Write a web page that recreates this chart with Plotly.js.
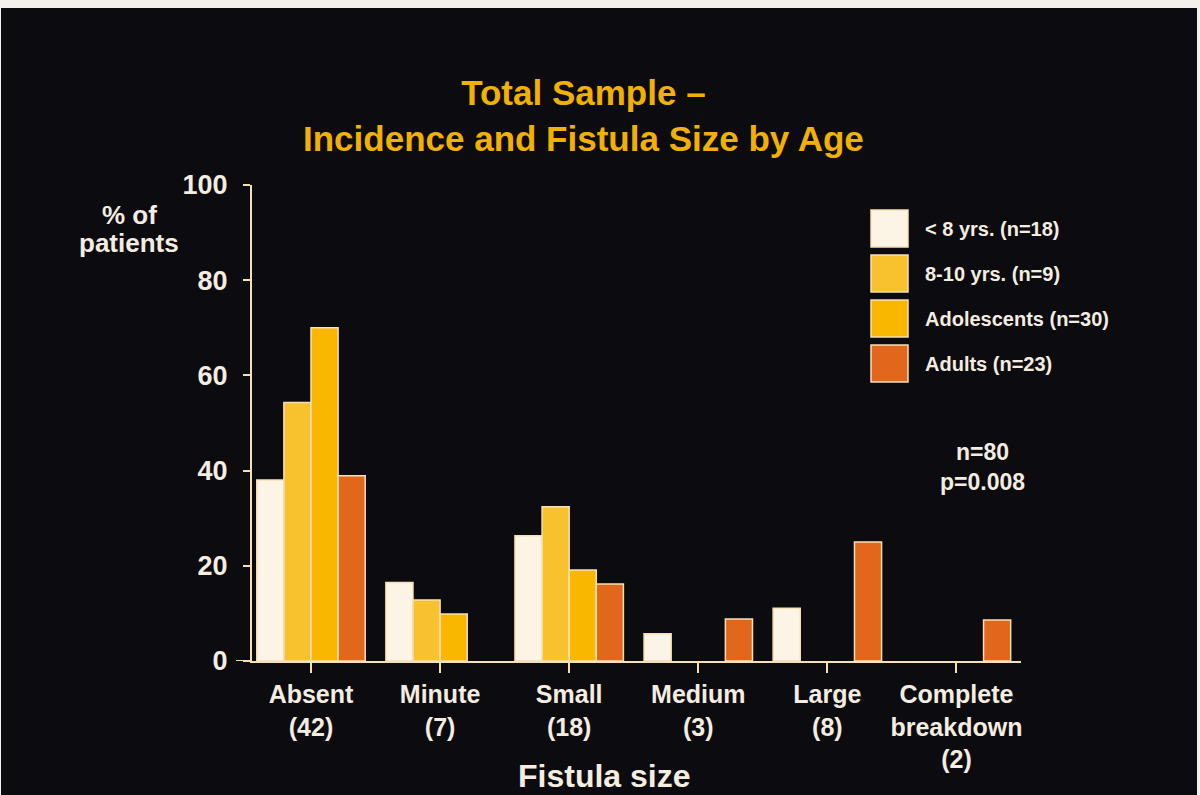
<!DOCTYPE html>
<html>
<head>
<meta charset="utf-8">
<script src="https://cdn.plot.ly/plotly-3.0.1.min.js"></script>
<style>
  html, body { margin: 0; padding: 0; width: 1200px; height: 795px; overflow: hidden; background: #f3f1ec; }
  #chart { position: absolute; left: 1px; top: 8px; width: 1196px; height: 787px; }
</style>
</head>
<body>
<div id="chart"></div>
<script>
// Fistula size categories (number of patients in brackets)
const categories = [
  'Absent<br>(42)',
  'Minute<br>(7)',
  'Small<br>(18)',
  'Medium<br>(3)',
  'Large<br>(8)',
  'Complete<br>breakdown<br>(2)'
];

// Age groups
const seriesNames = ['< 8 yrs. (n=18)', '8-10 yrs. (n=9)', 'Adolescents (n=30)', 'Adults (n=23)'];

// % of patients in each age group, per fistula size
const under8      = [38.0, 16.5, 26.3, 5.7, 11.1, 0];
const age8to10    = [54.3, 12.8, 32.4, 0,   0,    0];
const adolescents = [70.0,  9.9, 19.1, 0,   0,    0];
const adults      = [38.9,  0,   16.2, 8.8, 25.0, 8.6];

const yTickValues = [0, 20, 40, 60, 80, 100];

const seriesValues = [under8, age8to10, adolescents, adults];
const seriesColors = ['#fcf5e6', '#f7c22e', '#f9b700', '#e0671b'];

const INK = '#f4ede0';
const EDGE = '#f6e0b6';
const FONT = 'Liberation Sans, Arial, Helvetica, sans-serif';

// plot area in page pixels, used to place the free-floating text
const P = { left: 251, right: 1020, top: 185, bottom: 661 };
const px = x => (x - P.left) / (P.right - P.left);
const py = y => (P.bottom - y) / (P.bottom - P.top);

const traces = seriesValues.map((vals, i) => ({
  type: 'bar',
  name: seriesNames[i],
  x: categories,
  y: vals,
  marker: {
    color: seriesColors[i],
    // no outline on empty bars, so nothing thickens the baseline
    line: { color: EDGE, width: vals.map(v => (v > 0 ? 1.5 : 0)) }
  },
  showlegend: false,
  hoverinfo: 'skip'
}));

function txt(text, x, y, size, opts) {
  return Object.assign({
    text: text, xref: 'paper', yref: 'paper', x: px(x), y: py(y),
    showarrow: false, xanchor: 'center', yanchor: 'middle', align: 'center',
    font: { family: FONT, size: size, color: INK, weight: 'bold' }
  }, opts || {});
}

const annotations = [
  txt('Total Sample –<br>Incidence and Fistula Size by Age', 582, 115, 35,
      { font: { family: FONT, size: 35, color: '#f2b000', weight: 'bold' } }),
  txt('% of', 128, 215, 26),
  txt('patients', 128, 243, 26),
  txt('Fistula size', 603, 776, 32),
  txt('n=80<br>p=0.008', 981, 467, 23)
];

const shapes = [
  // zero line runs a little past the y axis
  { type: 'line', xref: 'paper', yref: 'y', x0: px(235), x1: 0, y0: 0, y1: 0,
    line: { color: EDGE, width: 2 } }
];

// legend: swatch plus label for every age group
seriesNames.forEach((name, i) => {
  const top = 210 + 45 * i;
  shapes.push({
    type: 'rect', xref: 'paper', yref: 'paper',
    x0: px(870), x1: px(907), y0: py(top + 37), y1: py(top),
    fillcolor: seriesColors[i], line: { color: EDGE, width: 1.5 }
  });
  annotations.push(txt(name, 922, top + 19, 20, { xanchor: 'left' }));
});

const layout = {
  width: 1196,
  height: 787,
  margin: { l: 251, r: 176, t: 177, b: 134, pad: 0 },
  paper_bgcolor: '#0c0b0f',
  plot_bgcolor: '#0c0b0f',
  barmode: 'group',
  bargap: 0.16,
  bargroupgap: 0,
  showlegend: false,
  font: { family: FONT, color: INK, weight: 'bold' },
  xaxis: {
    type: 'category',
    range: [-0.457, 5.5],
    showgrid: false,
    zeroline: false,
    showline: true,
    linecolor: EDGE,
    linewidth: 2,
    ticks: 'outside',
    ticklen: 10,
    tickwidth: 2,
    tickcolor: EDGE,
    tickfont: { family: FONT, size: 25, color: INK, weight: 'bold' },
    fixedrange: true
  },
  yaxis: {
    range: [0, 100],
    tickvals: yTickValues,
    ticktext: yTickValues.map(String),
    showgrid: false,
    zeroline: false,
    showline: true,
    linecolor: EDGE,
    linewidth: 2,
    ticks: 'outside',
    ticklen: 7,
    tickwidth: 2,
    tickcolor: EDGE,
    ticklabelstandoff: 10,
    tickfont: { family: FONT, size: 27, color: INK, weight: 'bold' },
    fixedrange: true
  },
  annotations: annotations,
  shapes: shapes
};

Plotly.newPlot('chart', traces, layout, { displayModeBar: false, staticPlot: true });
</script>
</body>
</html>
